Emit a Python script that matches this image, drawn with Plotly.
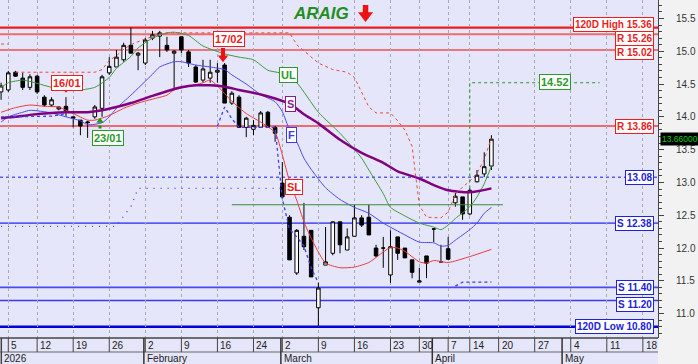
import plotly.graph_objects as go

# ---------------- data ----------------
dates = ["2026-01-02", "2026-01-05", "2026-01-07", "2026-01-08", "2026-01-09",
         "2026-01-12", "2026-01-13", "2026-01-14", "2026-01-15", "2026-01-16",
         "2026-01-19", "2026-01-20", "2026-01-21", "2026-01-22", "2026-01-23",
         "2026-01-26", "2026-01-27", "2026-01-28", "2026-01-29", "2026-01-30",
         "2026-02-02", "2026-02-03", "2026-02-04", "2026-02-05", "2026-02-06",
         "2026-02-09", "2026-02-10", "2026-02-11", "2026-02-12", "2026-02-13",
         "2026-02-16", "2026-02-17", "2026-02-18", "2026-02-19", "2026-02-20",
         "2026-02-24", "2026-02-25", "2026-02-26", "2026-02-27",
         "2026-03-02", "2026-03-03", "2026-03-04", "2026-03-05", "2026-03-06",
         "2026-03-09", "2026-03-10", "2026-03-11", "2026-03-12", "2026-03-13",
         "2026-03-16", "2026-03-17", "2026-03-18", "2026-03-19", "2026-03-20",
         "2026-03-23", "2026-03-24", "2026-03-26", "2026-03-27",
         "2026-03-30", "2026-03-31", "2026-04-01", "2026-04-02",
         "2026-04-07", "2026-04-08", "2026-04-09",
         "2026-04-14", "2026-04-15", "2026-04-16", "2026-04-17"]
day_index = list(range(-1, 68))  # trading-day position of each date

opens = [14.38, 14.41, 14.68, 14.59, 14.45, 14.62, 14.30, 14.18, 14.12, 14.16,
         14.00, 13.95, 13.91, 14.00, 14.13, 14.67, 14.76, 14.87, 15.09, 14.94,
         14.82, 15.20, 15.23, 15.09, 14.97, 15.22, 14.99, 14.76, 14.56, 14.59,
         14.68, 14.79, 14.21, 14.30, 13.84, 13.81, 13.84, 14.07, 13.84,
         12.99, 12.47, 11.62, 12.18, 12.27, 11.09, 11.74, 11.92, 12.40, 11.97,
         12.18, 12.46, 12.47, 12.00, 12.00, 11.59, 12.17, 12.00, 11.82,
         11.48, 11.88, 12.29, 11.79, 11.99, 12.69, 12.78, 12.52, 13.01, 13.13, 13.25]
highs = [14.52, 14.70, 14.70, 14.67, 14.65, 14.64, 14.33, 14.30, 14.16, 14.30,
         14.00, 13.95, 13.94, 14.18, 14.64, 14.91, 15.02, 15.13, 15.36, 14.99,
         15.20, 15.31, 15.31, 15.22, 15.02, 15.22, 15.02, 14.79, 14.87, 14.87,
         14.82, 14.82, 14.39, 14.33, 14.00, 13.95, 14.09, 14.09, 13.86,
         13.31, 12.50, 12.29, 12.69, 12.27, 11.47, 12.32, 12.40, 12.40, 12.30,
         12.66, 12.50, 12.66, 12.05, 12.17, 12.27, 12.17, 12.00, 11.82,
         11.70, 11.88, 12.30, 12.05, 12.17, 12.84, 12.78, 12.91, 13.19, 13.46, 13.72]
lows = [14.26, 14.38, 14.61, 14.41, 14.41, 14.35, 14.15, 14.15, 14.10, 14.00,
        13.84, 13.72, 13.68, 13.97, 14.00, 14.64, 14.76, 14.84, 14.97, 14.71,
        14.79, 15.17, 14.91, 14.99, 14.41, 14.97, 14.76, 14.52, 14.52, 14.52,
        14.52, 14.21, 14.18, 13.84, 13.69, 13.72, 13.84, 13.83, 13.62,
        12.76, 11.82, 11.59, 11.97, 11.56, 10.80, 11.74, 11.89, 11.92, 11.97,
        12.17, 12.32, 12.20, 11.86, 11.70, 11.47, 11.82, 11.85, 11.54,
        11.48, 11.54, 12.09, 11.79, 11.82, 12.63, 12.43, 12.50, 13.00, 13.08, 13.19]
closes = [14.47, 14.67, 14.62, 14.45, 14.61, 14.38, 14.18, 14.26, 14.15, 14.07,
          13.98, 13.86, 13.92, 14.15, 14.61, 14.77, 14.91, 15.09, 14.97, 14.97,
          15.17, 15.25, 15.28, 15.02, 15.00, 15.02, 14.82, 14.53, 14.73, 14.68,
          14.71, 14.21, 14.36, 13.84, 13.98, 13.87, 14.06, 13.84, 13.75,
          12.78, 11.82, 12.27, 12.02, 11.56, 11.39, 11.79, 12.40, 12.05, 12.17,
          12.46, 12.35, 12.20, 11.88, 12.00, 12.02, 11.92, 11.85, 11.63,
          11.50, 11.77, 12.29, 11.79, 11.83, 12.79, 12.52, 12.88, 13.11, 13.24, 13.66]

# indicator lines (position, value)
ul_x = [-1, 0, 2, 3, 6, 8, 10, 12, 14, 15, 17, 18, 20, 22, 23, 25, 27, 30, 32, 34,
        36, 38, 40, 43, 46, 49, 50, 52, 53, 55, 57, 59, 60, 61, 62, 64, 65, 66, 67]
ul_y = [14.45, 14.52, 14.56, 14.54, 14.45, 14.41, 14.41, 14.45, 14.60, 14.74, 14.92,
        15.05, 15.20, 15.28, 15.29, 15.24, 15.08, 14.96, 14.91, 14.87, 14.71, 14.66,
        14.52, 14.07, 13.75, 13.37, 13.19, 12.83, 12.62, 12.49, 12.38, 12.32, 12.28,
        12.35, 12.45, 12.63, 12.78, 12.98, 13.25]

f_x = [-1, 0, 2, 3, 6, 8, 10, 11, 13, 14, 15, 17, 20, 21, 23, 24, 26, 28, 30, 31,
       33, 35, 37, 38, 39, 40, 41, 42, 44, 46, 48, 50, 52, 55, 57, 59, 60, 61, 62,
       64, 65, 66, 67]
f_y = [13.92, 14.00, 14.07, 14.10, 14.06, 14.00, 13.94, 13.88, 13.91, 14.00, 14.13,
       14.33, 14.65, 14.76, 14.84, 14.84, 14.79, 14.76, 14.72, 14.64, 14.50, 14.34,
       14.23, 14.08, 13.80, 13.62, 13.37, 13.20, 12.92, 12.74, 12.62, 12.53, 12.38,
       12.20, 12.09, 12.08, 12.03, 12.04, 12.12, 12.28, 12.38, 12.53, 12.62]

sl_x = [-1, 1, 3, 5, 7, 8, 9, 11, 12, 14, 16, 18, 20, 22, 23, 26, 27, 28, 29, 31,
        33, 35, 37, 38, 39, 40, 41, 42, 43, 44, 46, 48, 50, 52, 53, 54, 55, 57, 58,
        59, 61, 64, 67]
sl_y = [14.07, 14.14, 14.18, 14.16, 14.15, 14.10, 14.05, 13.95, 13.95, 14.02, 14.13,
        14.21, 14.27, 14.33, 14.41, 14.49, 14.52, 14.56, 14.47, 14.24, 14.05, 13.92,
        13.76, 13.42, 13.02, 12.73, 12.40, 12.15, 11.94, 11.77, 11.70, 11.71, 11.78,
        11.94, 12.01, 12.00, 11.95, 11.79, 11.77, 11.81, 11.78, 11.87, 11.98]

s_x = [-1, 1, 3, 6, 8, 11, 13, 15, 17, 20, 22, 24, 26, 28, 30, 32, 35, 37, 39, 41,
       43, 46, 49, 52, 54, 57, 59, 61, 64, 67]
s_y = [13.98, 14.00, 14.03, 14.06, 14.07, 14.07, 14.10, 14.15, 14.21, 14.32, 14.39,
       14.45, 14.48, 14.48, 14.46, 14.41, 14.34, 14.28, 14.20, 14.04, 13.90, 13.65,
       13.45, 13.30, 13.17, 13.06, 12.96, 12.88, 12.85, 12.91]

# trailing stops (None = break)
rstop_x = [-1, 0, None, 1, 12, 13, 14, 15, 16, 17, 18, 19, 20, 21, 22, 39, 40, 41,
           42, 43, 44, 45, 46, 47, 48, 49, 50, 51, 52, 53, 54, 55, 56, 57, 58, 59,
           60, 61, 62, 63, 64, 65, 66, 67]
rstop_y = [15.11, 15.11, None, 14.68, 14.68, 14.72, 14.86, 14.93, 15.03, 15.10, 15.15,
           15.19, 15.22, 15.26, 15.28, 15.28, 15.10, 15.01, 14.92, 14.82, 14.77, 14.72,
           14.70, 14.68, 14.60, 14.38, 14.15, 14.06, 14.06, 14.06, 13.94, 13.80, 13.55,
           12.65, 12.47, 12.46, 12.46, 12.55, 12.82, 12.93, 13.02, 13.14, 13.35, 13.68]

bstop_x = [-1, 6, 7, 8, None, 29, 30, 31, 32, 37, 38, 39, 40, 41, 42, 43, None,
           62, 63, 67]
bstop_y = [14.00, 14.01, 14.03, 14.05, None, 13.86, 14.15, 13.97, 13.84, 13.84, 12.75,
           12.29, 12.17, 12.03, 11.70, 11.47, None, 11.42, 11.48, 11.48]

lstop_x = [-1, 15, 16, 17, 18, 38]
lstop_y = [12.33, 12.33, 12.49, 12.63, 12.91, 12.91]

target_x = [64, 64, 82]
target_y = [12.91, 14.52, 14.52]

base_x = [31, 68.6]
base_y = [12.66, 12.66]

# horizontal levels
level_vals = [15.36, 15.26, 15.02, 13.86, 13.08, 12.38, 11.40, 11.20, 10.80]
level_text = ["120D High 15.36", "R 15.26", "R 15.02", "R 13.86", "13.08",
              "S 12.38", "S 11.40", "S 11.20", "120D Low 10.80"]

# x axis ticks
tick_pos = [0, 4, 9, 14, 19, 24, 29, 34, 38, 43, 48, 53, 57, 61, 64, 68, 73, 78, 83, 88]
tick_text = ["5", "12", "19", "26", "2", "9", "16", "24", "2", "9", "16", "23", "30",
             "7", "14", "20", "27", "4", "11", "18"]
month_pos = [19, 38, 59, 77]
month_text = ["February", "March", "April", "May"]

last_price = 13.66

# ---------------- figure ----------------
RED = "#ee1c1c"
GREEN = "#2a9a2a"
PURPLE = "#8b1a8b"
XR = [-1.15, 90.1]
YR = [10.629, 15.781]
PH = 338.0

fig = go.Figure()

fig.add_trace(go.Candlestick(
    x=day_index, open=opens, high=highs, low=lows, close=closes, text=dates,
    increasing=dict(line=dict(color="black", width=1), fillcolor="white"),
    decreasing=dict(line=dict(color="black", width=1), fillcolor="black"),
    whiskerwidth=0, showlegend=False))

def line(x, y, color, width, dash="solid", shape="spline"):
    fig.add_trace(go.Scatter(x=x, y=y, mode="lines", showlegend=False, hoverinfo="skip",
                             line=dict(color=color, width=width, dash=dash, shape=shape,
                                       smoothing=0.6 if shape == "spline" else None)))

line(ul_x, ul_y, "#3c9a3c", 1)
line(f_x, f_y, "#4a4aee", 1)
line(sl_x, sl_y, "#ee3a3a", 1)
line(s_x, s_y, "#800080", 2.5)
line(rstop_x, rstop_y, "#ee4444", 1, "dot", "linear")
line(bstop_x, bstop_y, "#3d3dee", 1.3, "dot", "linear")
line(lstop_x, lstop_y, "#4444ee", 1.3, "1px,6px", "linear")
line(target_x, target_y, "#2a9a2a", 1, "dot", "linear")
line(base_x, base_y, "#3a8a3a", 1, "solid", "linear")

# signal arrows: (x, shaft top, shaft bottom, head centre, head size, colour, symbol, shaft width)
arrows = [
    (49.54, 15.705, 15.568, 15.545, 13, "#ee1111", "triangle-down", 5.5),
    (29.78, 15.049, 14.920, 14.902, 9, "#ee1111", "triangle-down", 4),
    (12.72, 13.868, 13.822, 13.936, 6.5, "#1a9a1a", "triangle-up", 3),
]
for ax_, y0, y1, yc, sz, col, sym, w in arrows:
    fig.add_trace(go.Scatter(x=[ax_, ax_], y=[y0, y1], mode="lines", hoverinfo="skip",
                             showlegend=False, line=dict(color=col, width=w)))
    fig.add_trace(go.Scatter(x=[ax_], y=[yc], mode="markers", hoverinfo="skip",
                             showlegend=False,
                             marker=dict(symbol=sym, size=sz, color=col, line=dict(width=0))))
fig.add_trace(go.Scatter(x=[8.0], y=[14.405], mode="markers", hoverinfo="skip",
                         showlegend=False,
                         marker=dict(symbol="triangle-down", size=5, color="#ee1111",
                                     line=dict(width=0))))

shapes = []
annos = []

level_style = [
    (RED, 2.2, "solid", 3, True), ("#f06a6a", 2, "solid", -4, True),
    ("#f05050", 1.6, "solid", -3, True), ("#f04040", 1.6, "solid", 0, True),
    ("#5a5af5", 1.6, "dot", 0, False), ("#5a5af5", 1.6, "solid", 0, False),
    ("#4a4af0", 1.6, "solid", 0, False), ("#3a3ae8", 1.6, "solid", -4, False),
    ("#0000d8", 2.5, "solid", 0, False)]
for v, t, (c, w, d, ys, is_red) in zip(level_vals, level_text, level_style):
    shapes.append(dict(type="line", xref="paper", x0=0, x1=1, yref="y", y0=v, y1=v,
                       line=dict(color=c, width=w, dash=d), layer="below"))
    tc = RED if is_red else "#2020e0"
    annos.append(dict(xref="paper", x=1, xanchor="right", xshift=-4, yref="y", y=v,
                      yshift=ys, text="<b>%s</b>" % t, showarrow=False,
                      font=dict(family="Arial", size=10, color=tc),
                      bgcolor="white", bordercolor=tc, borderwidth=1, borderpad=1))

# bottom axis strip
r1 = -14.0 / PH
r2 = -27.0 / PH
shapes.append(dict(type="rect", xref="paper", x0=0, x1=1, yref="paper", y0=r2, y1=0,
                   fillcolor="#e6e6fa", line=dict(width=0), layer="below"))
shapes.append(dict(type="line", xref="paper", x0=0, x1=1, yref="paper", y0=0, y1=0,
                   line=dict(color="#444", width=1.5)))
shapes.append(dict(type="line", xref="paper", x0=0, x1=1, yref="paper", y0=r1, y1=r1,
                   line=dict(color="#666", width=1)))
shapes.append(dict(type="line", xref="paper", x0=0.002, x1=0.002, yref="paper", y0=r2, y1=0,
                   line=dict(color="#444", width=1.5)))
for p, t in zip(tick_pos, tick_text):
    shapes.append(dict(type="line", xref="x", x0=p, x1=p, yref="paper", y0=r1, y1=0,
                       line=dict(color="#444", width=1)))
    annos.append(dict(xref="x", x=p, xanchor="left", xshift=1, yref="paper", y=r1 / 2,
                      yanchor="middle", text=t, showarrow=False,
                      font=dict(family="Arial", size=10, color="#222")))
for p, t in zip(month_pos, month_text):
    shapes.append(dict(type="line", xref="x", x0=p - 0.2, x1=p - 0.2, yref="paper", y0=r2, y1=0,
                       line=dict(color="#333", width=1.5)))
    annos.append(dict(xref="x", x=p - 0.2, xanchor="left", xshift=1, yref="paper",
                      y=(r1 + r2) / 2, yanchor="middle", text=t, showarrow=False,
                      font=dict(family="Arial", size=10, color="#222")))
annos.append(dict(xref="paper", x=0, xanchor="left", xshift=2, yref="paper",
                  y=(r1 + r2) / 2, yanchor="middle", text="2026", showarrow=False,
                  font=dict(family="Arial", size=10, color="#222")))

# last price tag
annos.append(dict(xref="paper", x=1, xanchor="left", xshift=2, yref="y", y=last_price,
                  text="%.5f" % last_price, showarrow=False,
                  font=dict(family="Arial", size=8.5, color="#00d000"),
                  bgcolor="black", borderpad=1))

# title
annos.append(dict(xref="x", x=43.3, yref="y", y=15.57, text="<b><i>ARAIG</i></b>",
                  showarrow=False, font=dict(family="Arial", size=17, color="#1f8f1f")))

# signal labels
def tag(x, y, t, c, size=10):
    annos.append(dict(xref="x", x=x, yref="y", y=y, text="<b>%s</b>" % t, showarrow=False,
                      font=dict(family="Arial", size=size, color=c), bgcolor="white",
                      bordercolor=c, borderwidth=1, borderpad=1))

tag(8.1, 14.51, "16/01", RED, 11)
tag(13.8, 13.68, "23/01", GREEN, 11)
tag(30.6, 15.19, "17/02", RED, 11)
tag(75.8, 14.53, "14.52", GREEN, 11)
tag(38.9, 14.64, "UL", GREEN, 11)
tag(39.2, 14.20, "S", PURPLE, 11)
tag(39.3, 13.73, "F", "#3a3af0", 11)
tag(39.6, 12.93, "SL", RED, 11)

fig.update_layout(
    width=698, height=364,
    margin=dict(l=0, r=40, t=0, b=26),
    paper_bgcolor="#f2f2f2", plot_bgcolor="#e6e6fa",
    shapes=shapes, annotations=annos, showlegend=False,
    xaxis=dict(range=XR, rangeslider=dict(visible=False), tickvals=tick_pos,
               showticklabels=False, ticks="", showgrid=True, gridcolor="#a8a8b4",
               griddash="dot", gridwidth=1, zeroline=False, showline=False,
               fixedrange=True),
    yaxis=dict(range=YR, side="right", tick0=11, dtick=0.5, tickformat=".1f",
               ticks="outside", ticklen=5, tickcolor="#444", showline=True,
               linecolor="#444", linewidth=1, showgrid=False, zeroline=False,
               ticklabelstandoff=10,
               tickfont=dict(family="Arial", size=10, color="#333"),
               minor=dict(dtick=0.1, ticks="outside", ticklen=3, tickcolor="#444",
                          showgrid=False)),
)

fig.write_html("out.html")
